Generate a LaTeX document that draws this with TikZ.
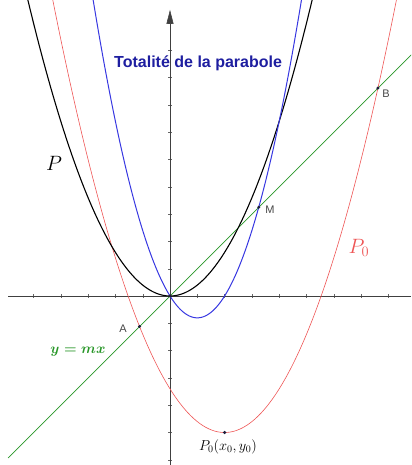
\documentclass[tikz,border=0pt]{standalone}
\usepackage{fontspec}
\newfontfamily\labfont{Liberation Sans}
\usetikzlibrary{arrows.meta}
\definecolor{titleblue}{RGB}{30,30,160}
\definecolor{curveblue}{RGB}{55,55,225}
\definecolor{curvered}{RGB}{238,85,85}
\definecolor{linegreen}{RGB}{40,150,40}
\definecolor{labgreen}{RGB}{40,150,40}
\definecolor{ptcol}{RGB}{30,30,60}
\definecolor{labgray}{RGB}{70,70,70}
\begin{document}
\begin{tikzpicture}[x=27.3pt,y=27.3pt,
  axis/.style={draw=black!75,line width=0.5pt},
  tickmark/.style={draw=black!60,line width=0.4pt},
  curveP/.style={draw=black,line width=1.1pt,smooth},
  curveM/.style={draw=curveblue,line width=1pt,smooth},
  curveQ/.style={draw=curvered,line width=0.6pt,smooth},
  lineD/.style={draw=linegreen,line width=0.7pt},
  ptdot/.style={circle,fill=ptcol,inner sep=0pt,minimum size=3.4pt},
  ptlab/.style={font=\labfont\fontsize{11}{11}\selectfont,text=labgray,inner sep=0pt},
  biglab/.style={font=\fontsize{21}{21}\selectfont,inner sep=0pt}]
\useasboundingbox (-6.227,-6.190) rectangle (8.828,10.842);
\begin{scope}
\clip (-6.227,-6.190) rectangle (8.828,10.842);
\foreach \t in {-5,...,-1,1,2,...,8} \draw[tickmark] (\t,-0.06) -- (\t,0.06);
\foreach \t in {-6,...,-1,1,2,...,10} \draw[tickmark] (-0.06,\t) -- (0.06,\t);
\coordinate (xl) at (-5.93,0);
\coordinate (xr) at (8.83,0);
\coordinate (yb) at (0,-6.19);
\coordinate (yt) at (0,10.48);
\draw[axis] (xl) -- (xr);
\draw[axis,-{Triangle[length=14pt,width=7pt]}] (yb) -- (yt);
\draw[curveQ,domain=-4.4:8.4,samples=120] plot (\x,{0.4*(\x-2)*(\x-2)-5});
\coordinate (gl) at (-5.93,-5.93);
\coordinate (gr) at (8.9,8.9);
\draw[lineD] (gl) -- (gr);
\draw[curveP,domain=-5.35:5.35,samples=120] plot (\x,{0.4*\x*\x});
\draw[curveM,domain=-2.95:4.95,samples=120] plot (\x,{0.8*\x*\x-1.6*\x});
\end{scope}
\node[ptdot] (O) at (0,0) {};
\node[ptdot] (A) at (-1.116,-1.116) {};
\node[ptdot] (B) at (7.616,7.616) {};
\node[ptdot] (M) at (3.25,3.25) {};
\node[ptdot] (V) at (2,-5) {};
\node[ptlab] (lA) at (-1.72,-1.21) {A};
\node[ptlab] (lB) at (7.91,7.40) {B};
\node[ptlab] (lM) at (3.66,3.15) {M};
\node[biglab] (lP) at (-4.25,4.84) {$P$};
\node[biglab,text=curvered] (lQ) at (6.92,1.76) {$P_0$};
\node[inner sep=0pt,text=labgreen,font=\fontsize{14}{14}\selectfont\boldmath] (lD) at (-3.37,-2.05) {$y=mx$};
\node[inner sep=0pt,font=\fontsize{14}{14}\selectfont] (lV) at (2.12,-5.53) {$P_0(x_0,y_0)$};
\node[inner sep=0pt,text=titleblue,font=\labfont\bfseries\fontsize{16}{16}\selectfont] (title) at (1.03,8.53) {Totalité de la parabole};
\end{tikzpicture}
\end{document}
